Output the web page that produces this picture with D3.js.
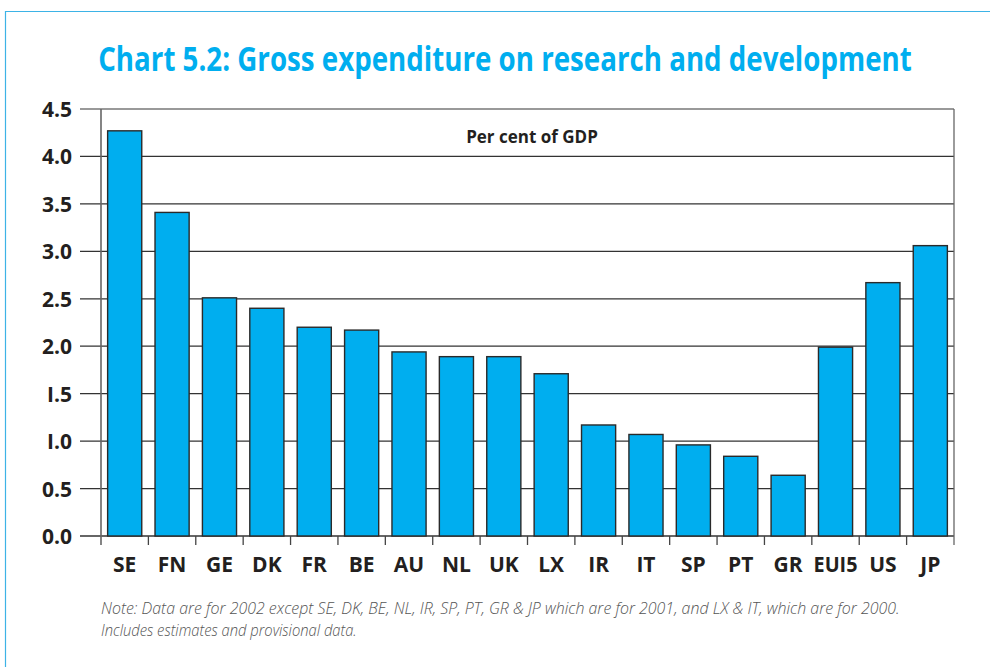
<!DOCTYPE html>
<html>
<head>
<meta charset="utf-8">
<script src="https://cdn.jsdelivr.net/npm/d3@7"></script>
<style>
  html, body { margin: 0; padding: 0; background: #fff; }
  svg { display: block; }
  text { font-family: "Open Sans", "DejaVu Sans", sans-serif; }
</style>
</head>
<body>
<svg id="chart" width="990" height="667"></svg>
<script>
// Gross expenditure on R&D, per cent of GDP
const categories = ["SE", "FN", "GE", "DK", "FR", "BE", "AU", "NL", "UK", "LX", "IR", "IT", "SP", "PT", "GR", "EUI5", "US", "JP"];
const values = [4.27, 3.41, 2.51, 2.40, 2.20, 2.17, 1.94, 1.89, 1.89, 1.71, 1.17, 1.07, 0.96, 0.84, 0.64, 1.99, 2.67, 3.06];
const yTicks = [0, 0.5, 1.0, 1.5, 2.0, 2.5, 3.0, 3.5, 4.0, 4.5];
const yTickLabels = ["0.0", "0.5", "I.0", "I.5", "2.0", "2.5", "3.0", "3.5", "4.0", "4.5"];

const svg = d3.select("#chart");
const cyan = "#00AEEF";

// squeeze a text horizontally so that it spans at most the given width
function fitWidth(sel, cx, baseline, width, anchor) {
  const w = sel.node().getComputedTextLength();
  const s = Math.min(1, width / w);
  sel.attr("x", 0).attr("y", 0)
    .attr("text-anchor", anchor)
    .attr("transform", `translate(${cx},${baseline}) scale(${s},1)`);
}

// page frame
svg.append("path")
  .attr("d", "M5.5,667 V11.5 H990")
  .attr("fill", "none")
  .attr("stroke", "#3db3e6")
  .attr("stroke-width", 1.2);

// title
const title = svg.append("text")
  .attr("fill", cyan)
  .attr("font-size", 34)
  .attr("font-weight", 700)
  .text("Chart 5.2: Gross expenditure on research and development");
fitWidth(title, 505, 71, 814, "middle");

const plotLeft = 101, plotRight = 954, plotTop = 109, plotBottom = 536;

const x = d3.scaleBand().domain(categories).range([plotLeft, plotRight]).paddingInner(0.28).paddingOuter(0.14);
const y = d3.scaleLinear().domain([0, 4.5]).range([plotBottom, plotTop]);

// horizontal gridlines with outside tick stubs
svg.append("g").selectAll("line")
  .data(yTicks)
  .join("line")
  .attr("x1", 80).attr("x2", plotRight)
  .attr("y1", d => y(d)).attr("y2", d => y(d))
  .attr("stroke", d => d === 4.5 ? "#777" : "#333")
  .attr("stroke-width", d => d === 0 ? 1.6 : 1.3);

// y tick labels
svg.append("g").selectAll("text")
  .data(yTicks)
  .join("text")
  .attr("font-size", 21)
  .attr("font-weight", 700)
  .attr("fill", "#231f20")
  .text((d, i) => yTickLabels[i])
  .each(function (d) { fitWidth(d3.select(this), 72, y(d) + 8, 31, "end"); });

// left and right frame lines
svg.append("line").attr("x1", plotLeft).attr("x2", plotLeft).attr("y1", plotTop).attr("y2", plotBottom + 9)
  .attr("stroke", "#666").attr("stroke-width", 1.6);
svg.append("line").attr("x1", plotRight).attr("x2", plotRight).attr("y1", plotTop).attr("y2", plotBottom + 9)
  .attr("stroke", "#666").attr("stroke-width", 1.3);

// category boundary ticks below the axis
const boundaries = d3.range(1, categories.length).map(i => plotLeft + (plotRight - plotLeft) * i / categories.length);
svg.append("g").selectAll("line")
  .data(boundaries)
  .join("line")
  .attr("x1", d => d).attr("x2", d => d)
  .attr("y1", plotBottom).attr("y2", plotBottom + 9)
  .attr("stroke", "#444").attr("stroke-width", 1.3);

// bars
svg.append("g").selectAll("rect")
  .data(categories)
  .join("rect")
  .attr("x", d => x(d))
  .attr("width", x.bandwidth())
  .attr("y", (d, i) => y(values[i]))
  .attr("height", (d, i) => y(0) - y(values[i]))
  .attr("fill", cyan)
  .attr("stroke", "#2a2a2a")
  .attr("stroke-width", 1.4);

// category labels
svg.append("g").selectAll("text")
  .data(categories)
  .join("text")
  .attr("font-size", 21)
  .attr("font-weight", 700)
  .attr("fill", "#231f20")
  .text(d => d)
  .each(function (d) { fitWidth(d3.select(this), x(d) + x.bandwidth() / 2, 572, 44, "middle"); });

// unit label
svg.append("text")
  .attr("x", 532).attr("y", 143)
  .attr("text-anchor", "middle")
  .attr("font-size", 17)
  .attr("font-weight", 700)
  .attr("fill", "#231f20")
  .text("Per cent of GDP");

// footnote
const notes = [
  "Note: Data are for 2002 except SE, DK, BE, NL, IR, SP, PT, GR & JP which are for 2001, and LX & IT, which are for 2000.",
  "Includes estimates and provisional data."
];
const noteWidths = [799, 256];
svg.append("g").selectAll("text")
  .data(notes)
  .join("text")
  .attr("font-size", 16)
  .attr("font-style", "italic")
  .attr("font-weight", 300)
  .attr("fill", "#555")
  .text(d => d)
  .each(function (d, i) { fitWidth(d3.select(this), 101, 614 + i * 22, noteWidths[i], "start"); });
</script>
</body>
</html>
